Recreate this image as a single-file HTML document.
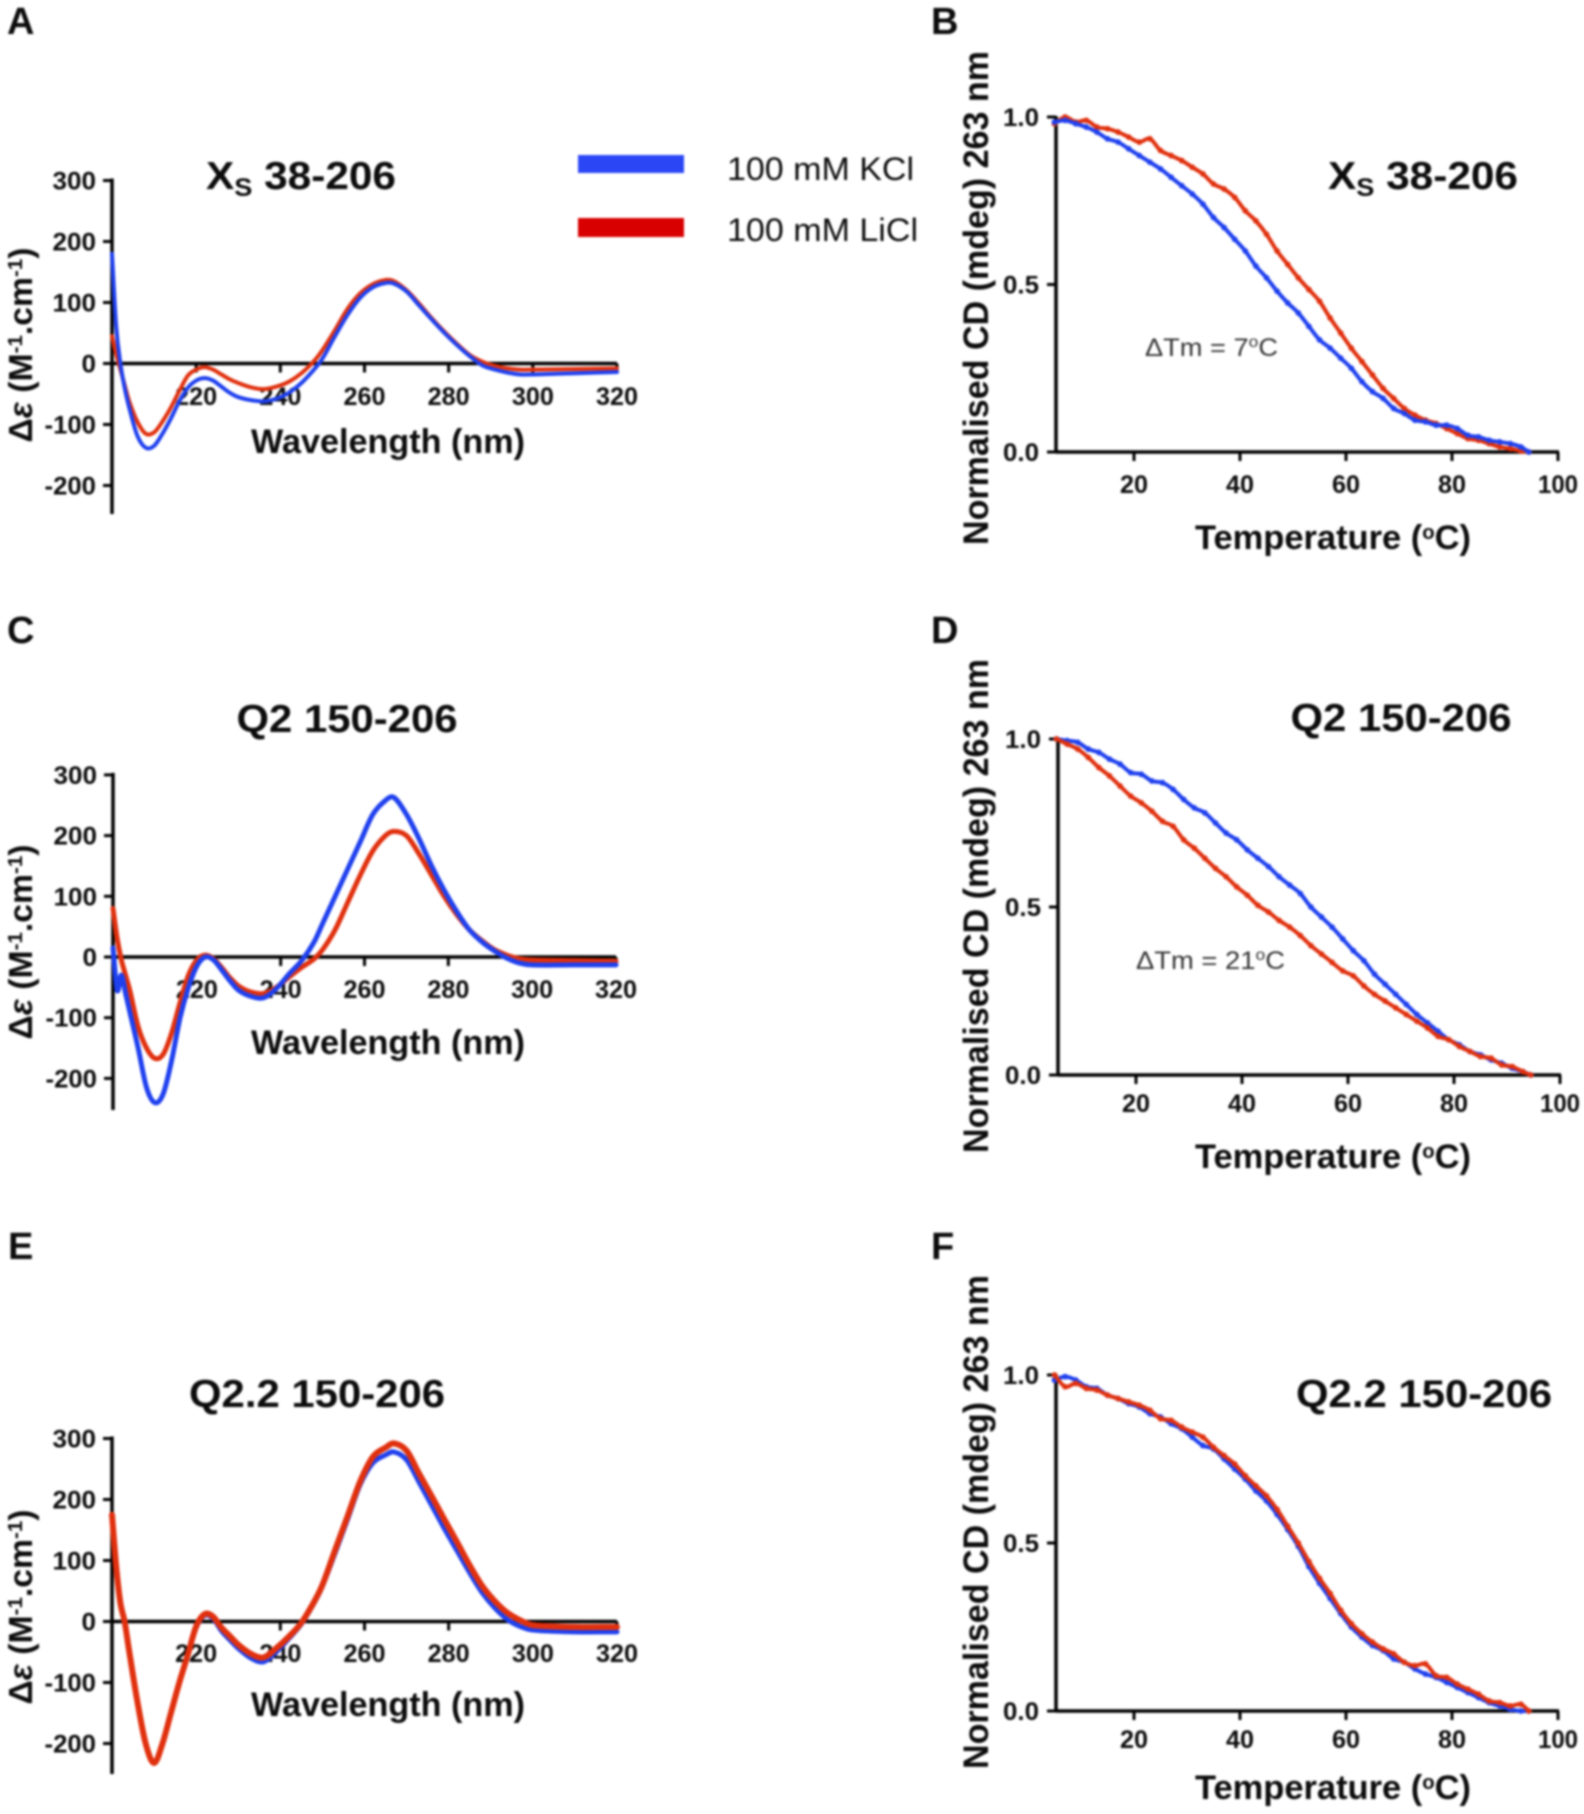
<!DOCTYPE html>
<html lang="en">
<head>
<meta charset="utf-8">
<title>CD spectra and thermal melts in KCl and LiCl</title>
<style>
html,body{margin:0;padding:0;background:#fff;width:1584px;height:1814px;overflow:hidden}
#figure{position:absolute;left:0;top:0;filter:blur(0.95px)}
text{font-family:"Liberation Sans",sans-serif;fill:#0c0c0c}
</style>
</head>
<body>
<svg id="figure" xmlns="http://www.w3.org/2000/svg" width="1584" height="1814" viewBox="0 0 1584 1814">
  <rect x="0" y="0" width="1584" height="1814" fill="#ffffff"/>
  <g>
    <rect x="578" y="155" width="106" height="18" fill="#2b47f5"/>
    <text x="727" y="180" font-size="32" textLength="187" lengthAdjust="spacingAndGlyphs">100 mM KCl</text>
    <rect x="578" y="218" width="106" height="19" fill="#d80000"/>
    <text x="727" y="241" font-size="32" textLength="191" lengthAdjust="spacingAndGlyphs">100 mM LiCl</text>
  </g>
  <g id="charts"></g>
</svg>
<script>
// ---- shared axis categories and tick labels ----
const wavelengths = [200,201,202,203,204,206,208,210,212,214,216,218,220,222,224,226,228,230,233,236,239,242,245,248,250,253,256,259,262,265,267,270,273,276,279,282,285,288,291,294,297,300,310,320];
const temperatures = [5,7,9,11,13,15,17,19,21,23,25,27,29,31,33,35,37,39,41,43,45,47,49,51,53,55,57,59,61,63,65,67,69,71,73,75,77,79,81,83,85,87,89,91,93,94.5];
const spectrumYTicks = [300,200,100,0,-100,-200];
const spectrumXTicks = [220,240,260,280,300,320];
const meltYTicks = [1.0,0.5,0.0];
const meltXTicks = [20,40,60,80,100];

// ---- panel A: Xs 38-206 spectra ----
const panelAKcl = [180,60,0,-40,-70,-118,-138,-135,-115,-90,-62,-40,-28,-24,-28,-38,-48,-55,-60,-62,-58,-48,-32,-10,8,45,80,108,125,132,131,118,95,72,50,30,12,-3,-10,-15,-18,-18,-16,-14];
const panelALicl = [45,15,-10,-35,-60,-95,-115,-113,-95,-72,-45,-20,-10,-6,-10,-18,-26,-32,-39,-42,-38,-30,-16,4,22,55,90,115,130,137,135,120,98,74,52,32,14,3,-4,-8,-10,-10,-9,-8];
// ---- panel C: Q2 150-206 spectra ----
const panelCKcl = [15,-55,-30,-60,-90,-150,-215,-240,-225,-170,-100,-50,-15,0,-5,-22,-40,-55,-65,-67,-52,-28,-6,25,55,100,145,190,235,258,263,235,195,150,110,75,45,25,10,-2,-10,-13,-13,-13];
const panelCLicl = [80,30,-5,-30,-55,-115,-150,-167,-160,-125,-75,-30,-5,3,-3,-18,-35,-48,-58,-60,-50,-33,-17,-3,12,45,90,135,175,200,207,200,170,135,100,70,45,27,12,3,-3,-5,-6,-7];
// ---- panel E: Q2.2 150-206 spectra ----
const panelEKcl = [175,90,30,0,-45,-130,-200,-232,-200,-150,-100,-55,-10,10,5,-15,-30,-44,-60,-66,-50,-28,-4,30,58,112,168,225,260,273,278,265,228,190,152,116,80,47,22,3,-8,-14,-17,-17];
const panelELicl = [175,90,30,0,-45,-130,-200,-232,-200,-150,-100,-55,-8,12,8,-10,-24,-38,-53,-59,-44,-25,-2,32,60,117,173,230,270,285,292,280,242,205,167,130,92,58,33,14,2,-6,-9,-9];

// ---- panel B: Xs 38-206 melts ----
const panelBKcl = [.985,.99,.98,.97,.955,.935,.925,.905,.885,.865,.845,.82,.795,.77,.74,.70,.67,.635,.60,.555,.52,.48,.445,.415,.375,.335,.31,.28,.25,.21,.18,.16,.13,.115,.095,.09,.08,.08,.07,.05,.045,.035,.03,.025,.015,0];
const panelBLicl = [.98,1.0,.985,.99,.97,.965,.955,.94,.925,.935,.9,.885,.87,.85,.83,.80,.785,.76,.72,.69,.65,.60,.56,.52,.485,.45,.40,.355,.31,.27,.23,.19,.16,.13,.11,.095,.085,.07,.055,.04,.035,.025,.015,.01,.003,0];
// ---- panel D: Q2 150-206 melts ----
const panelDKcl = [1.0,.995,.99,.97,.96,.94,.925,.90,.895,.875,.87,.85,.82,.795,.78,.75,.72,.70,.67,.645,.62,.59,.565,.54,.50,.47,.44,.405,.37,.34,.30,.27,.24,.21,.18,.155,.13,.105,.09,.07,.06,.045,.035,.02,.01,0];
const panelDLicl = [1.0,.985,.97,.945,.915,.89,.86,.83,.81,.785,.755,.74,.70,.675,.645,.615,.59,.56,.535,.505,.485,.46,.44,.415,.385,.36,.335,.31,.295,.265,.24,.22,.20,.18,.16,.14,.115,.105,.085,.07,.055,.05,.03,.025,.01,0];
// ---- panel F: Q2.2 150-206 melts ----
const panelFKcl = [.985,.995,.985,.965,.96,.94,.93,.915,.905,.885,.875,.855,.84,.815,.79,.78,.75,.72,.69,.655,.625,.585,.54,.49,.43,.38,.335,.29,.25,.22,.195,.18,.155,.145,.125,.11,.10,.085,.07,.055,.04,.025,.015,.005,0,0];
const panelFLicl = [1.0,.965,.975,.96,.955,.94,.93,.92,.91,.895,.87,.865,.845,.83,.815,.785,.76,.735,.70,.67,.64,.60,.55,.50,.445,.395,.35,.30,.26,.23,.205,.185,.17,.145,.135,.14,.105,.10,.08,.065,.05,.03,.025,.015,.02,0];

const BLUE = '#1f40ee';
const RED = '#e0300e';
const NS = 'http://www.w3.org/2000/svg';
const root = document.getElementById('charts');

function addEl(parent, tag, attrs){
  const el = document.createElementNS(NS, tag);
  for (const k in attrs) el.setAttribute(k, attrs[k]);
  parent.appendChild(el);
  return el;
}
function addText(parent, label, x, y, size, opts){
  const o = opts || {};
  const el = addEl(parent, 'text', {x:x, y:y, 'font-size':size});
  if (o.bold !== false) el.setAttribute('font-weight', 'bold');
  if (o.anchor) el.setAttribute('text-anchor', o.anchor);
  if (o.len) { el.setAttribute('textLength', o.len); el.setAttribute('lengthAdjust', 'spacingAndGlyphs'); }
  if (o.rotate) el.setAttribute('transform', 'rotate(-90 ' + x + ' ' + y + ')');
  if (o.fill) el.setAttribute('style', 'fill:' + o.fill);
  (Array.isArray(label) ? label : [[label]]).forEach(function(part){
    const span = addEl(el, 'tspan', {});
    span.textContent = part[0];
    if (part[1]) span.setAttribute('dy', part[1]);
    if (part[2]) span.setAttribute('font-size', part[2]);
    if (part[3]) span.setAttribute('font-style', part[3]);
  });
  return el;
}
// Curve through the points; tangents follow x spacing so uneven sampling leaves no kinks.
function smoothPath(pts){
  const slope = function(i){
    const a = pts[Math.max(i-1,0)], b = pts[Math.min(i+1,pts.length-1)];
    return (b[1]-a[1]) / (b[0]-a[0]);
  };
  let d = 'M' + pts[0][0].toFixed(2) + ' ' + pts[0][1].toFixed(2);
  for (let i = 0; i < pts.length - 1; i++){
    const p1 = pts[i], p2 = pts[i+1], dx = (p2[0]-p1[0]) / 3;
    d += 'C' + (p1[0]+dx).toFixed(2) + ' ' + (p1[1]+slope(i)*dx).toFixed(2) + ' ' + (p2[0]-dx).toFixed(2) + ' ' + (p2[1]-slope(i+1)*dx).toFixed(2) + ' ' + p2[0].toFixed(2) + ' ' + p2[1].toFixed(2);
  }
  return d;
}
function labelWidth(str){
  let w = 0;
  for (const ch of str) w += (ch === '-') ? 8 : (ch === '.') ? 7 : 14.5;
  return w;
}

function drawSpectrum(id, geo, first, second, widths){
  const g = addEl(root, 'g', {});
  
  
  const xAxis = function(w){ return geo.left + (w - 200) * (geo.right - geo.left) / 120; };
  const yAxis = function(v){ return geo.zero - v * geo.perHundred / 100; };

  const yLine = addEl(g, 'line', {x1:geo.left, x2:geo.left, y1:yAxis(300)-2, y2:geo.bottom, stroke:'#000', 'stroke-width':3.5});
  
  
  const zeroLine = addEl(g, 'line', {x1:geo.left, x2:geo.right, y1:geo.zero, y2:geo.zero, stroke:'#000', 'stroke-width':3.5});
  
  

  spectrumYTicks.forEach(function(v){
    const tick = addEl(g, 'line', {x1:geo.left-9, x2:geo.left, y1:yAxis(v), y2:yAxis(v), stroke:'#000', 'stroke-width':3});
    
    
    const str = String(v);
    const lab = addText(g, str, geo.left-16, yAxis(v)+9, 25, {anchor:'end', len:labelWidth(str)});
    
    
  });
  spectrumXTicks.forEach(function(w){
    const tick = addEl(g, 'line', {x1:xAxis(w), x2:xAxis(w), y1:geo.zero, y2:geo.zero+9, stroke:'#000', 'stroke-width':3});
    
    
    const lab = addText(g, String(w), xAxis(w), geo.tickBase, 25, {anchor:'middle', len:42});
    
    
  });

  const t = addText(g, geo.titleParts, geo.titleX, geo.titleY, 39, {anchor:geo.titleAnchor, len:geo.titleLen});
  
  
  const xt = addText(g, 'Wavelength (nm)', 388, geo.xTitleBase, 34, {anchor:'middle', len:274});
  
  
  const yt = addText(g, [['\u0394'],['\u03b5',null,null,'italic'],[' (M'],['-1','-10','20'],['.cm','10'],['-1','-10','20'],[')','10']], 32, geo.yTitleCenter, 33, {anchor:'middle', rotate:true, len:geo.yTitleLen});
  
  

  [first, second].forEach(function(series, i){
    const pts = wavelengths.map(function(w, k){ return [xAxis(w), yAxis(series.values[k])]; });
    const path = addEl(g, 'path', {d:smoothPath(pts), fill:'none', stroke:series.color, 'stroke-width':widths[i], 'stroke-linejoin':'round', 'stroke-linecap':'round'});
    
    
  });
}

function drawMelt(id, geo, first, second){
  const g = addEl(root, 'g', {});
  
  
  const xAxis = function(c){ return geo.x20 + (c - 20) * (geo.x100 - geo.x20) / 80; };
  const yAxis = function(v){ return geo.y0 - v * (geo.y0 - geo.y1); };

  const yLine = addEl(g, 'line', {x1:geo.left, x2:geo.left, y1:geo.y1-1, y2:geo.y0, stroke:'#000', 'stroke-width':3.5});
  
  
  const xLine = addEl(g, 'line', {x1:geo.left, x2:geo.x100+1, y1:geo.y0, y2:geo.y0, stroke:'#000', 'stroke-width':3.5});
  
  

  meltYTicks.forEach(function(v){
    const tick = addEl(g, 'line', {x1:geo.left-9, x2:geo.left, y1:yAxis(v), y2:yAxis(v), stroke:'#000', 'stroke-width':3});
    
    
    const lab = addText(g, v.toFixed(1), geo.left-17, yAxis(v)+9, 25, {anchor:'end', len:36});
    
    
  });
  meltXTicks.forEach(function(c){
    const tick = addEl(g, 'line', {x1:xAxis(c), x2:xAxis(c), y1:geo.y0, y2:geo.y0+9, stroke:'#000', 'stroke-width':3});
    
    
    const lab = addText(g, String(c), xAxis(c), geo.tickBase, 25, {anchor:'middle', len:c === 100 ? 40 : 28});
    
    
  });

  const t = addText(g, geo.titleParts, geo.titleX, geo.titleY, 39, {anchor:geo.titleAnchor, len:geo.titleLen});
  
  
  const xt = addText(g, [['Temperature ('],['o','-10','20'],['C)','10']], 1333, geo.xTitleBase, 34, {anchor:'middle', len:276});
  
  
  const yt = addText(g, 'Normalised CD (mdeg) 263 nm', 988, geo.yTitleCenter, 35, {anchor:'middle', rotate:true, len:494});
  
  
  if (geo.note){
    const n = addText(g, [['\u0394Tm = ' + geo.note],['o','-9','16'],['C','9']], geo.noteX, geo.noteY, 25, {bold:false, len:geo.noteLen, fill:'#333'});
    
    
  }

  [first, second].forEach(function(series){
    const pts = temperatures.map(function(c, k){ return [xAxis(c), yAxis(series.values[k])]; });
    const path = addEl(g, 'path', {d:smoothPath(pts), fill:'none', stroke:series.color, 'stroke-width':4, 'stroke-linejoin':'round'});
    
    
    pts.forEach(function(p){
      const dot = addEl(g, 'circle', {cx:p[0], cy:p[1], r:2.9, fill:series.color});
      
      
    });
  });
}

function panelLetter(letter, x, y){
  const el = addText(root, letter, x, y, 38, {});
  
  
}
panelLetter('A', 7, 34);
panelLetter('B', 931, 34);
panelLetter('C', 7, 643);
panelLetter('D', 931, 643);
panelLetter('E', 8, 1259);
panelLetter('F', 931, 1259);

const xsTitle = [['X'],['S','7','25'],[' 38-206','-7','39']];
drawSpectrum('a', {left:112, right:617, zero:363.5, perHundred:61, bottom:514, tickBase:405, xTitleBase:453,
  titleParts:xsTitle, titleX:206, titleY:189, titleAnchor:'start', titleLen:190, yTitleCenter:345, yTitleLen:195},
  {name:'licl', color:RED, values:panelALicl}, {name:'kcl', color:BLUE, values:panelAKcl}, [4,4]);
drawSpectrum('c', {left:113, right:616, zero:957, perHundred:60.7, bottom:1110, tickBase:998, xTitleBase:1054,
  titleParts:'Q2 150-206', titleX:347, titleY:732, titleAnchor:'middle', titleLen:221, yTitleCenter:942, yTitleLen:195},
  {name:'licl', color:RED, values:panelCLicl}, {name:'kcl', color:BLUE, values:panelCKcl}, [5,5]);
drawSpectrum('e', {left:112, right:617, zero:1621.5, perHundred:61, bottom:1774, tickBase:1662, xTitleBase:1716,
  titleParts:'Q2.2 150-206', titleX:317, titleY:1407, titleAnchor:'middle', titleLen:256, yTitleCenter:1607, yTitleLen:195},
  {name:'kcl', color:BLUE, values:panelEKcl}, {name:'licl', color:RED, values:panelELicl}, [5,6]);

drawMelt('b', {left:1056, x20:1134, x100:1558, y1:117, y0:452, tickBase:493, xTitleBase:549,
  titleParts:xsTitle, titleX:1328, titleY:189, titleAnchor:'start', titleLen:190, yTitleCenter:298,
  note:'7', noteX:1145, noteY:356, noteLen:133},
  {name:'licl', color:RED, values:panelBLicl}, {name:'kcl', color:BLUE, values:panelBKcl});
drawMelt('d', {left:1058, x20:1136, x100:1560, y1:739, y0:1075, tickBase:1112, xTitleBase:1168,
  titleParts:'Q2 150-206', titleX:1401, titleY:731, titleAnchor:'middle', titleLen:221, yTitleCenter:906,
  note:'21', noteX:1136, noteY:969, noteLen:149},
  {name:'kcl', color:BLUE, values:panelDKcl}, {name:'licl', color:RED, values:panelDLicl});
drawMelt('f', {left:1056, x20:1134, x100:1558, y1:1375, y0:1711, tickBase:1748, xTitleBase:1799,
  titleParts:'Q2.2 150-206', titleX:1424, titleY:1407, titleAnchor:'middle', titleLen:256, yTitleCenter:1522},
  {name:'kcl', color:BLUE, values:panelFKcl}, {name:'licl', color:RED, values:panelFLicl});
</script>
</body>
</html>
